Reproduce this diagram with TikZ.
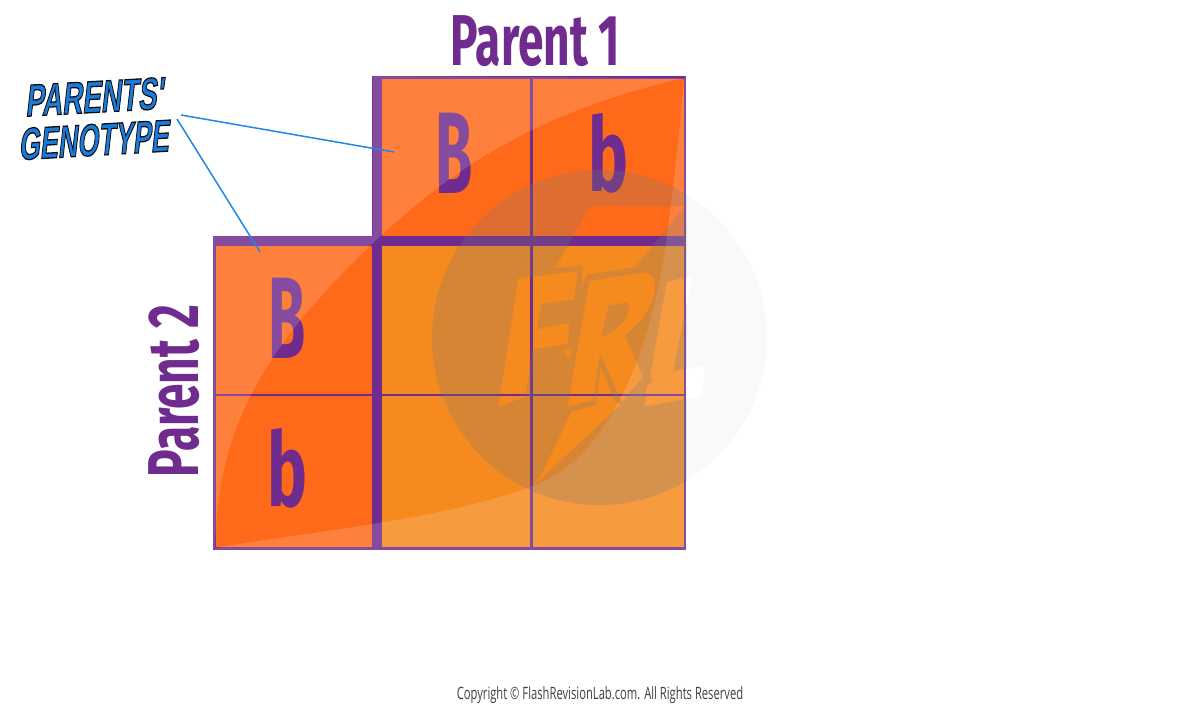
\documentclass[tikz,border=0pt]{standalone}
\usepackage{fontspec}
\newfontfamily\headfont{Fira Sans}[BoldFont={Fira Sans Bold}]
\newfontfamily\comicfont{Liberation Sans}[FakeSlant=0.22]
\newfontfamily\copyfont{Open Sans}
\definecolor{hdr}{HTML}{FF6A1A}
\definecolor{inner}{HTML}{F58A1E}
\definecolor{plum}{HTML}{6F2C8E}
\definecolor{callout}{HTML}{1E88E5}
\definecolor{comicblue}{HTML}{1B7BDB}
\definecolor{wmark}{HTML}{787878}
\definecolor{wpale}{HTML}{F9F9F9}
\newcommand{\outlined}[1]{\special{pdf:code 2 Tr 1.3 w 0.05 0.05 0.05 RG}#1\special{pdf:code 0 Tr}}
\tikzset{
  x=1pt,y=-1pt,
  title/.style={text=plum,inner sep=0pt,transform shape,font=\headfont\bfseries\fontsize{72}{72}\selectfont},
  allele/.style={text=plum,inner sep=0pt,xscale=0.52,transform shape,font=\headfont\bfseries\fontsize{116}{116}\selectfont},
  smallallele/.style={text=plum,inner sep=0pt,xscale=0.65,transform shape,font=\headfont\bfseries\fontsize{103}{103}\selectfont},
  thin grid/.style={plum,line width=2.5pt},
  thick grid/.style={plum,line width=9.5pt},
  gloss/.style={fill=white,fill opacity=0.15,draw=none},
  callout line/.style={callout,line width=1.5pt},
  comic/.style={text=comicblue,inner sep=0pt,transform shape,font=\comicfont\bfseries\fontsize{45}{45}\selectfont}
}
\newcommand{\frlpath}{
  (599.5,337.5) circle[radius=167.5]
  (590,206) -- (685,206) -- (635,267.3) -- (586.7,275) -- (581.7,290) -- (582.7,265.7) -- (555,268.3) -- cycle
  (518.3,278.3) -- (577.7,271) -- (574,299.3) -- (541.7,304) -- (536.7,329.3) -- (569.3,322.7) -- (568,344) -- (531.7,350) -- (525.7,396.7) -- (498.3,406.7) -- cycle
  (561.7,350) -- (571.7,348.3) -- (570,359.3) -- cycle
  (589.3,280.7) -- (643.3,272.7) .. controls (660,271.7) and (663.3,303.3) .. (625,336) -- (643.3,376.7) -- (622,402) -- (600,354) -- (593.3,400) -- (567.3,406.7) -- cycle
  (608.3,306) -- (626.7,302.3) .. controls (633,306.7) and (626.7,326.7) .. (601,337.7) -- cycle
  (571.7,411.7) -- (595.7,405) -- (600.7,366.7) -- (615,401.7) -- (621.7,405) -- (643.3,383.3) -- (536.7,483.3) -- cycle
  (666.7,281.7) -- (692.3,276) -- (673.3,370.7) -- (705,365.7) -- (702.7,396) -- (644.3,406.7) -- (646.7,386.7) -- (652.3,381.7) -- (650,376.7) -- cycle
}
\begin{document}
\begin{tikzpicture}
\useasboundingbox (0,0) rectangle (1200,705);
% pale part of the watermark disc, behind everything
\path[fill=wpale,even odd rule] \frlpath;
% square fills
\fill[hdr] (377,78) rectangle (685,240);
\fill[hdr] (214,240) rectangle (377,548);
\fill[inner] (377,240) rectangle (685,548);
% grid
\draw[thin grid] (214.5,395) -- (685,395);
\draw[thin grid] (531.5,78) -- (531.5,548);
\draw[thin grid] (377,77.5) -- (685,77.5) -- (685,548.5) -- (214.5,548.5) -- (214.5,240);
\draw[thick grid] (377,76) -- (377,550);
\draw[thick grid] (213,241) -- (686,241);
% letters
\node[allele] (p1big) at (454.5,153.5) {B};
\node[smallallele] (p1small) at (608.5,153.5) {b};
\node[allele] (p2big) at (287,318) {B};
\node[smallallele] (p2small) at (287,468) {b};
% gloss
\path[gloss] (215,548) .. controls (218,440) and (250,360) .. (373,243) .. controls (445,175) and (530,113) .. (684,78) -- (377,76) -- (372.5,76) -- (372.5,236) -- (213,236) -- (213,550) -- cycle;
\path[gloss] (215,548) .. controls (320,530) and (440,520) .. (530,487) .. controls (610,460) and (650,350) .. (665,250) .. controls (672,200) and (680,130) .. (684,78) -- (686.5,76) -- (686.5,550) -- (215,550) -- cycle;
% darker part of the watermark, over the square only
\begin{scope}
\clip (213,76) rectangle (686.5,550);
\path[fill=wmark,fill opacity=0.25,even odd rule] \frlpath;
\end{scope}
% titles
\node[title,xscale=0.64] (parentone) at (535.5,41) {Parent 1};
\node[title,rotate=90,xscale=0.64] (parenttwo) at (174,391) {Parent 2};
% callout
\node[comic,xscale=0.62,rotate=2] (calloutA) at (94,97) {\outlined{PARENTS'}};
\node[comic,xscale=0.60,rotate=2] (calloutB) at (93.5,140) {\outlined{GENOTYPE}};
\coordinate (startA) at (181,115);
\coordinate (endA) at (394,152);
\coordinate (startB) at (177,119);
\coordinate (endB) at (260,252);
\draw[callout line] (startA) -- (endA);
\draw[callout line] (startB) -- (endB);
% footer
\node[inner sep=0pt,text=black!75,xscale=0.66,transform shape,font=\copyfont\fontsize{17}{17}\selectfont] (copyright) at (600,695) {Copyright © FlashRevisionLab.com. All Rights Reserved};
\end{tikzpicture}
\end{document}
